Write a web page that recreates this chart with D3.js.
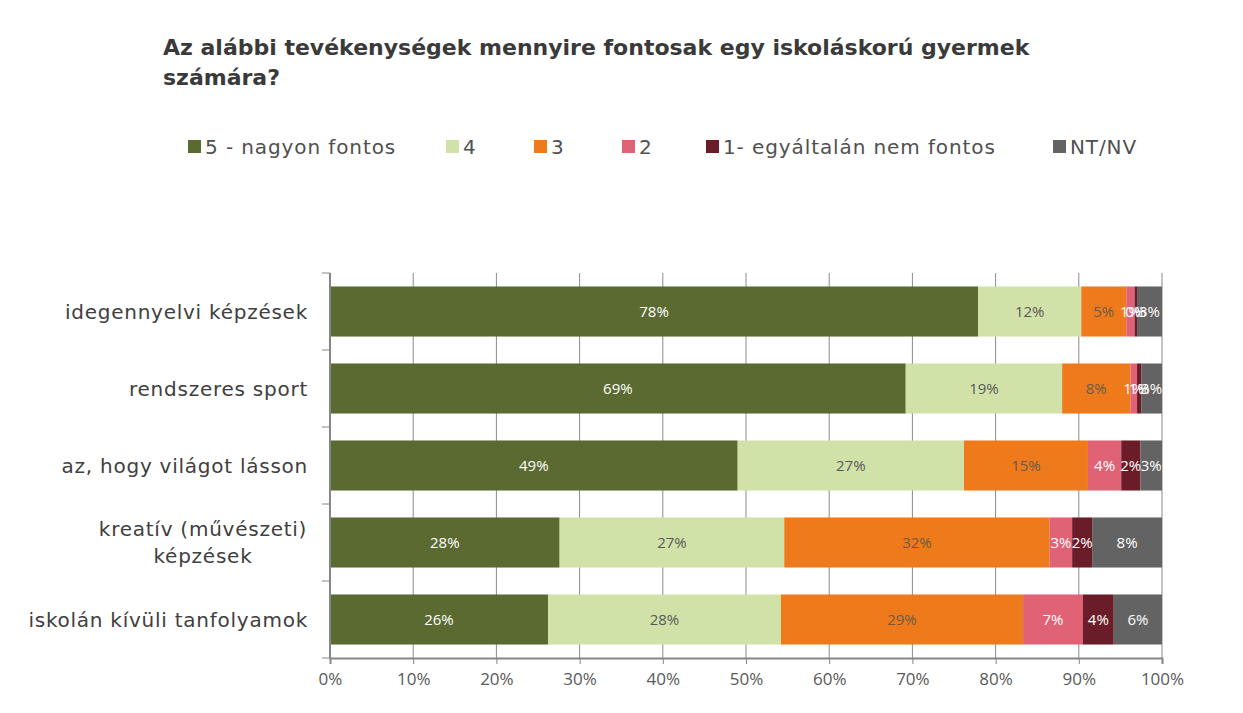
<!DOCTYPE html>
<html><head><meta charset="utf-8">
<script src="https://cdn.jsdelivr.net/npm/d3@7"></script>
<style>
html,body{margin:0;padding:0;background:#fff;}
svg{display:block;}
</style></head>
<body>
<svg id="chart" width="1243" height="713"></svg>
<script>
const categories = [
  ["idegennyelvi képzések"],
  ["rendszeres sport"],
  ["az, hogy világot lásson"],
  ["kreatív (művészeti)", "képzések"],
  ["iskolán kívüli tanfolyamok"]
];
const seriesNames = ["5 - nagyon fontos", "4", "3", "2", "1- egyáltalán nem fontos", "NT/NV"];
const colors = ["#5a6a31", "#d0e2a8", "#ee7a1b", "#e06275", "#6a1d29", "#636363"];
const labelColors = ["#ffffff", "#595959", "#6b5a4a", "#ffffff", "#ffffff", "#ffffff"];
const s5 = [77.9, 69.2, 49.0, 27.6, 26.2];
const s4 = [12.4, 18.8, 27.2, 27.0, 28.0];
const s3 = [5.4, 8.2, 14.9, 31.9, 29.1];
const s2 = [1.0, 0.8, 4.0, 2.7, 7.2];
const s1 = [0.3, 0.5, 2.3, 2.4, 3.7];
const sNT = [3.0, 2.5, 2.6, 8.4, 5.8];
const tickValues = [0, 10, 20, 30, 40, 50, 60, 70, 80, 90, 100];

const series = [s5, s4, s3, s2, s1, sNT];
const svg = d3.select("#chart");
const font = "Tahoma, 'DejaVu Sans', sans-serif";

const pLeft = 330, pRight = 1162, pTop = 273, pBottom = 658;
const x = d3.scaleLinear().domain([0, 100]).range([pLeft, pRight]);
const y = d3.scaleBand().domain(d3.range(categories.length)).range([pTop, pBottom])
  .paddingInner(0.35).paddingOuter(0.175);

// title
const title = svg.append("text")
  .attr("font-family", font).attr("font-weight", "bold").attr("font-size", 22)
  .attr("fill", "#3a3a3a");
title.append("tspan").attr("x", 163).attr("y", 55).text("Az alábbi tevékenységek mennyire fontosak egy iskoláskorú gyermek");
title.append("tspan").attr("x", 163).attr("y", 85).text("számára?");

// legend
const legendX = [188, 446, 534, 622, 706, 1053];
const lg = svg.append("g");
seriesNames.forEach((n, i) => {
  lg.append("rect").attr("x", legendX[i]).attr("y", 140).attr("width", 13).attr("height", 13).attr("fill", colors[i]);
  lg.append("text").attr("x", legendX[i] + 17).attr("y", 154).attr("font-family", font)
    .attr("font-size", 20).attr("letter-spacing", 0.9).attr("fill", "#505050").text(n);
});

// gridlines
svg.append("g").selectAll("line").data(tickValues.slice(1)).join("line")
  .attr("x1", d => x(d)).attr("x2", d => x(d)).attr("y1", pTop).attr("y2", pBottom)
  .attr("stroke", "#8a8a8a").attr("stroke-width", 1);

// bars
const stacked = categories.map((c, i) => {
  let acc = 0;
  return series.map((s, k) => { const v = s[i]; const seg = {row: i, k, x0: acc, x1: acc + v, v}; acc += v; return seg; });
});
const barsG = svg.append("g");
stacked.forEach(row => {
  barsG.selectAll(null).data(row).join("rect")
    .attr("x", d => x(d.x0)).attr("width", d => x(d.x1) - x(d.x0))
    .attr("y", d => y(d.row)).attr("height", y.bandwidth())
    .attr("fill", d => colors[d.k]);
});
stacked.forEach(row => {
  barsG.selectAll(null).data(row).join("text")
    .attr("x", d => (x(d.x0) + x(d.x1)) / 2).attr("y", d => y(d.row) + y.bandwidth() / 2 + 5)
    .attr("text-anchor", "middle").attr("font-family", "'Open Sans', 'Noto Sans', sans-serif")
    .attr("font-size", 15).attr("fill", d => labelColors[d.k])
    .text(d => Math.round(d.v) + "%");
});

// y axis
const yAxis = svg.append("g");
yAxis.append("line").attr("x1", pLeft).attr("x2", pLeft).attr("y1", pTop).attr("y2", pBottom)
  .attr("stroke", "#868686").attr("stroke-width", 2);
const bounds = d3.range(categories.length + 1).map(i => pTop + i * y.step());
yAxis.selectAll(null).data(bounds).join("line")
  .attr("x1", pLeft - 8).attr("x2", pLeft).attr("y1", d => d).attr("y2", d => d)
  .attr("stroke", "#868686").attr("stroke-width", 1);

// category labels
categories.forEach((lines, i) => {
  const cy = y(i) + y.bandwidth() / 2;
  const lh = 27;
  const t = svg.append("text").attr("font-family", font).attr("font-size", 20)
    .attr("letter-spacing", 0.75).attr("fill", "#404040");
  if (lines.length === 1) {
    t.attr("x", 308).attr("y", cy + 7).attr("text-anchor", "end").text(lines[0]);
  } else {
    t.attr("text-anchor", "middle");
    lines.forEach((l, j) => {
      t.append("tspan").attr("x", 203).attr("y", cy + 7 + (j - (lines.length - 1) / 2) * lh).text(l);
    });
  }
});

// x axis
const xAxis = d3.axisBottom(x).tickValues(tickValues).tickFormat(d => d + "%").tickSize(6).tickPadding(9);
const xg = svg.append("g").attr("transform", `translate(0,${pBottom})`).call(xAxis);
xg.select(".domain").attr("stroke", "#868686").attr("stroke-width", 2);
xg.selectAll(".tick line").attr("stroke", "#868686");
xg.selectAll(".tick text").attr("font-family", "'Open Sans', 'Noto Sans', sans-serif").attr("font-size", 17).attr("fill", "#595959");
</script>
</body></html>
